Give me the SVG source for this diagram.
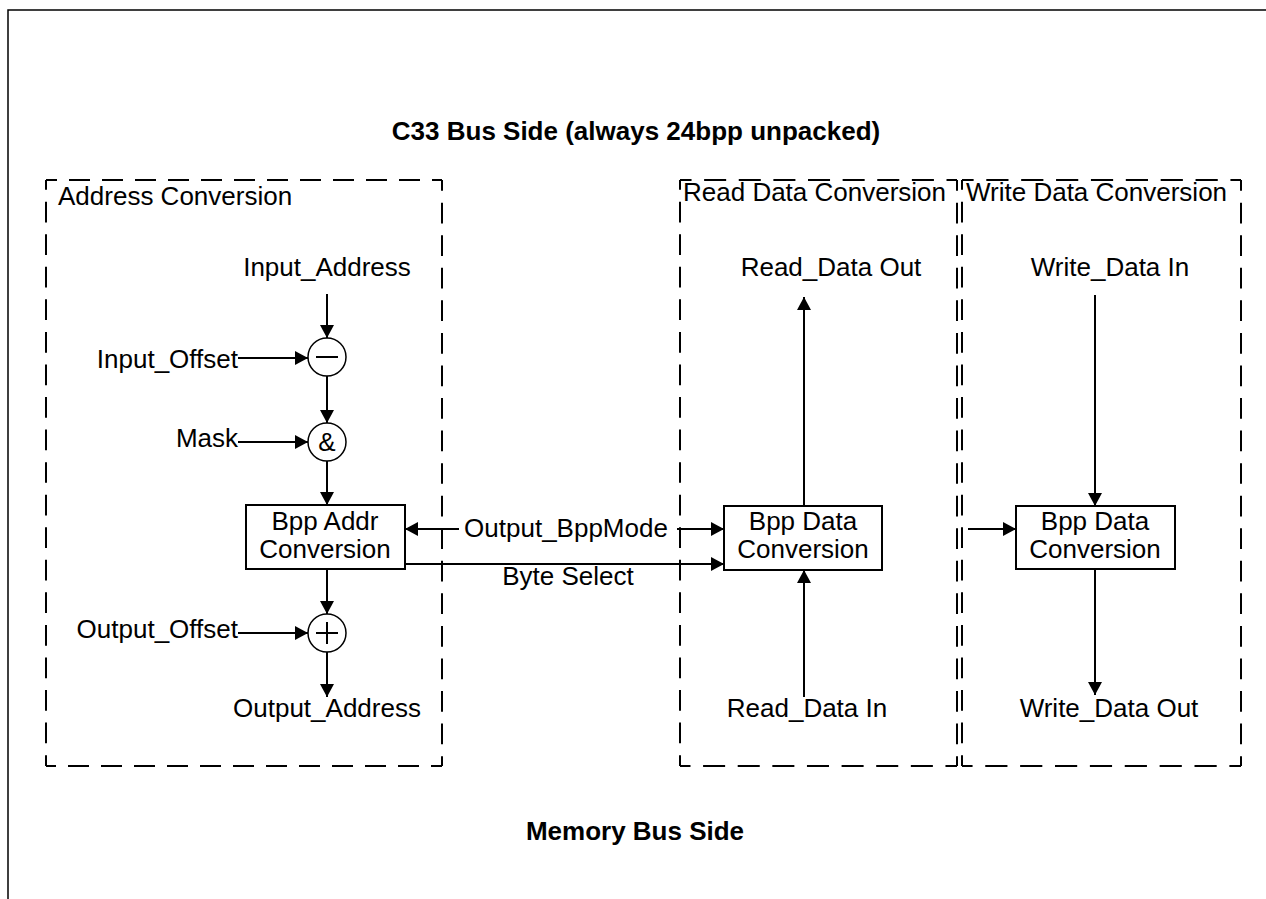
<svg xmlns="http://www.w3.org/2000/svg" width="1266" height="899" viewBox="0 0 1266 899">
<style>
text{font-family:"Liberation Sans",Arial,sans-serif;font-size:26px;fill:#000}
.b{font-weight:bold}
.m{text-anchor:middle}
.e{text-anchor:end}
.frame{stroke:#000;stroke-width:1.5;fill:none}
.dash{stroke:#000;stroke-width:2;fill:none;stroke-dasharray:21 12;stroke-dashoffset:10}
.box{stroke:#000;stroke-width:2;fill:#fff}
.op{stroke:#000;stroke-width:1.5;fill:#fff}
.sym{stroke:#000;stroke-width:2;fill:none}
.c{stroke:#000;stroke-width:2;fill:none;marker-end:url(#ah)}
</style>
<defs>
<marker id="ah" markerUnits="userSpaceOnUse" markerWidth="15" markerHeight="15" refX="13" refY="7" orient="auto">
<path d="M0,0 L13,7 L0,14 z" fill="#000"/>
</marker>
</defs>
<rect width="1266" height="899" fill="#fff"/>
<path class="frame" d="M8,899 V10 H1266"/>
<text class="b m" x="636" y="140">C33 Bus Side (always 24bpp unpacked)</text>
<text class="b m" x="635" y="840">Memory Bus Side</text>

<g id="address-conversion">
<line class="dash" x1="46" y1="180" x2="442" y2="180" pathLength="396"/>
<line class="dash" x1="442" y1="180" x2="442" y2="766" pathLength="594"/>
<line class="dash" x1="442" y1="766" x2="46" y2="766" pathLength="396"/>
<line class="dash" x1="46" y1="766" x2="46" y2="180" pathLength="594"/>
<text x="58" y="205">Address Conversion</text>
</g>
<g id="read-data-conversion">
<line class="dash" x1="680" y1="180" x2="957" y2="180" pathLength="264"/>
<line class="dash" x1="957" y1="180" x2="957" y2="766" pathLength="594"/>
<line class="dash" x1="957" y1="766" x2="680" y2="766" pathLength="264"/>
<line class="dash" x1="680" y1="766" x2="680" y2="180" pathLength="594"/>
<text x="683" y="201">Read Data Conversion</text>
</g>
<g id="write-data-conversion">
<line class="dash" x1="962" y1="180" x2="1241" y2="180" pathLength="264"/>
<line class="dash" x1="1241" y1="180" x2="1241" y2="766" pathLength="594"/>
<line class="dash" x1="1241" y1="766" x2="962" y2="766" pathLength="264"/>
<line class="dash" x1="962" y1="766" x2="962" y2="180" pathLength="594"/>
<text x="966" y="201">Write Data Conversion</text>
</g>

<g id="labels">
<text class="m" x="327" y="276">Input_Address</text>
<text class="e" x="238" y="368">Input_Offset</text>
<text class="e" x="238" y="447">Mask</text>
<text class="e" x="238" y="638">Output_Offset</text>
<text class="m" x="327" y="717">Output_Address</text>
<text class="m" x="566" y="537">Output_BppMode</text>
<text class="m" x="568" y="585">Byte Select</text>
<text class="m" x="831" y="276">Read_Data Out</text>
<text class="m" x="807" y="717">Read_Data In</text>
<text class="m" x="1110" y="276">Write_Data In</text>
<text class="m" x="1109" y="717">Write_Data Out</text>
</g>

<g id="connectors">
<line class="c" x1="327" y1="294" x2="327" y2="338"/>
<line class="c" x1="238" y1="358" x2="308" y2="358"/>
<line class="c" x1="327" y1="376" x2="327" y2="423"/>
<line class="c" x1="238" y1="442" x2="308" y2="442"/>
<line class="c" x1="327" y1="461" x2="327" y2="505"/>
<line class="c" x1="327" y1="569" x2="327" y2="614"/>
<line class="c" x1="238" y1="633" x2="308" y2="633"/>
<line class="c" x1="327" y1="652" x2="327" y2="697"/>
<line class="c" x1="459" y1="529" x2="405" y2="529"/>
<line class="c" x1="677" y1="529" x2="724" y2="529"/>
<line class="c" x1="405" y1="564" x2="724" y2="564"/>
<line class="c" x1="804" y1="506" x2="804" y2="297"/>
<line class="c" x1="804" y1="697" x2="804" y2="570"/>
<line class="c" x1="1095" y1="295" x2="1095" y2="506"/>
<line class="c" x1="1095" y1="569" x2="1095" y2="695"/>
<line class="c" x1="968" y1="529" x2="1016" y2="529"/>
</g>

<g id="subtract">
<circle class="op" cx="327" cy="357" r="19"/>
<line class="sym" x1="316" y1="357" x2="338" y2="357"/>
</g>
<g id="and">
<circle class="op" cx="327" cy="442" r="19"/>
<text class="m" x="327" y="451">&amp;</text>
</g>
<g id="add">
<circle class="op" cx="327" cy="633" r="19"/>
<line class="sym" x1="316" y1="633" x2="338" y2="633"/>
<line class="sym" x1="327" y1="622" x2="327" y2="644"/>
</g>
<g id="bpp-addr">
<rect class="box" x="246" y="505" width="159" height="64"/>
<text class="m" x="325" y="530">Bpp Addr</text>
<text class="m" x="325" y="558">Conversion</text>
</g>
<g id="bpp-read">
<rect class="box" x="724" y="506" width="158" height="64"/>
<text class="m" x="803" y="530">Bpp Data</text>
<text class="m" x="803" y="558">Conversion</text>
</g>
<g id="bpp-write">
<rect class="box" x="1016" y="506" width="159" height="63"/>
<text class="m" x="1095" y="530">Bpp Data</text>
<text class="m" x="1095" y="558">Conversion</text>
</g>
</svg>
